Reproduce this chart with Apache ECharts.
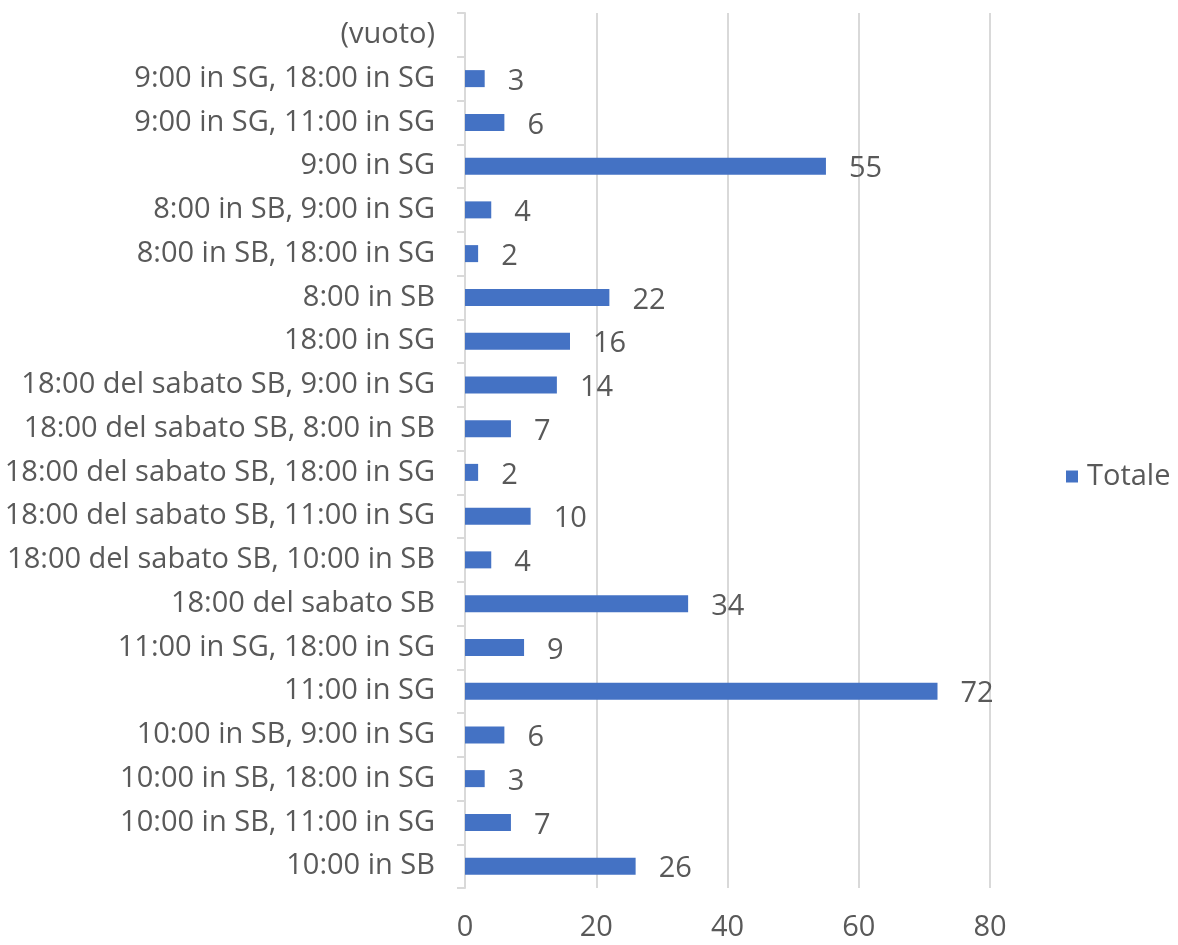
<!DOCTYPE html>
<html>
<head>
<meta charset="utf-8">
<script src="https://cdn.jsdelivr.net/npm/echarts@6/dist/echarts.min.js"></script>
<style>
  html, body { margin: 0; padding: 0; background: #fff; }
  #chart { width: 1178px; height: 945px; }
</style>
</head>
<body>
<div id="chart"></div>
<script>
// categories bottom -> top
const categories = [
  '10:00 in SB',
  '10:00 in SB, 11:00 in SG',
  '10:00 in SB, 18:00 in SG',
  '10:00 in SB, 9:00 in SG',
  '11:00 in SG',
  '11:00 in SG, 18:00 in SG',
  '18:00 del sabato SB',
  '18:00 del sabato SB, 10:00 in SB',
  '18:00 del sabato SB, 11:00 in SG',
  '18:00 del sabato SB, 18:00 in SG',
  '18:00 del sabato SB, 8:00 in SB',
  '18:00 del sabato SB, 9:00 in SG',
  '18:00 in SG',
  '8:00 in SB',
  '8:00 in SB, 18:00 in SG',
  '8:00 in SB, 9:00 in SG',
  '9:00 in SG',
  '9:00 in SG, 11:00 in SG',
  '9:00 in SG, 18:00 in SG',
  '(vuoto)'
]
const totale = [26, 7, 3, 6, 72, 9, 34, 4, 10, 2, 7, 14, 16, 22, 2, 4, 55, 6, 3, null]
const xTicks = [0, 20, 40, 60, 80]

const textColor = '#595959'
const lineColor = '#D9D9D9'
const font = '"Open Sans", sans-serif'
const fontSize = 29

const chart = echarts.init(document.getElementById('chart'))

const option = {
  backgroundColor: '#fff',
  animation: false,
  textStyle: { fontFamily: font },
  grid: {
    left: 465,
    right: 188,
    top: 13,
    bottom: 57
  },
  legend: {
    orient: 'vertical',
    left: 1061,
    top: 457,
    itemWidth: 12,
    itemHeight: 12,
    icon: 'rect',
    textStyle: { color: textColor, fontSize: fontSize, fontFamily: font, padding: [0, 0, 0, 4] },
    data: ['Totale']
  },
  xAxis: {
    type: 'value',
    min: xTicks[0],
    max: xTicks[xTicks.length - 1],
    interval: 20,
    axisLine: { show: false },
    axisTick: { show: false },
    axisLabel: { color: textColor, fontSize: fontSize, margin: 25, fontFamily: font },
    splitLine: { lineStyle: { color: lineColor, width: 2 } }
  },
  yAxis: {
    type: 'category',
    data: categories,
    axisLine: { show: true, lineStyle: { color: lineColor, width: 2 } },
    axisTick: { show: true, length: 8, lineStyle: { color: lineColor, width: 2 } },
    axisLabel: { color: textColor, fontSize: fontSize, margin: 30, fontFamily: font }
  },
  series: [
    {
      name: 'Totale',
      type: 'bar',
      data: totale,
      barWidth: 17,
      itemStyle: { color: '#4472C4' },
      label: {
        show: true,
        position: 'right',
        distance: 23,
        offset: [0, 3],
        color: textColor,
        fontSize: fontSize,
        fontFamily: font
      }
    }
  ]
}

chart.setOption(option)
</script>
</body>
</html>
